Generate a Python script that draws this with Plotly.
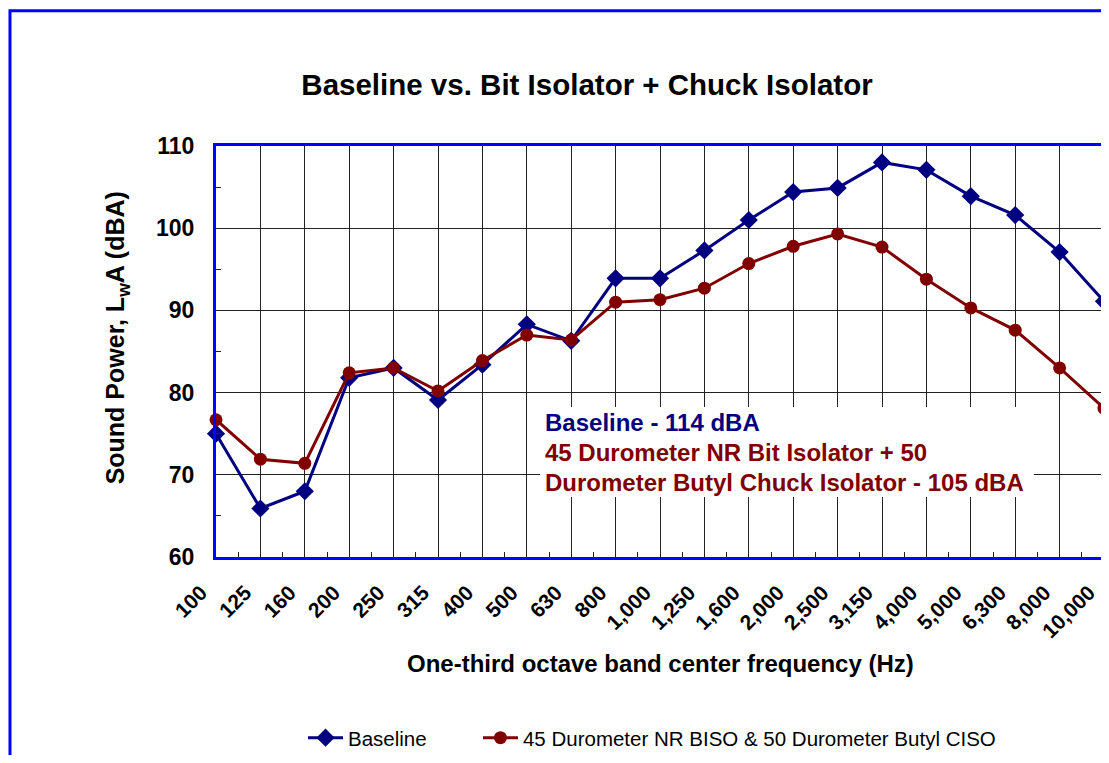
import plotly.graph_objects as go

# one-third octave band centre frequencies (Hz)
FREQS = ["100", "125", "160", "200", "250", "315", "400", "500", "630", "800",
         "1,000", "1,250", "1,600", "2,000", "2,500", "3,150", "4,000", "5,000",
         "6,300", "8,000", "10,000"]

BASELINE = [75.0, 65.9, 68.0, 81.8, 83.0, 79.1, 83.4, 88.3, 86.3, 93.9,
            93.9, 97.3, 101.0, 104.4, 104.9, 108.0, 107.1, 103.9, 101.6, 97.1, 91.1]

ISOLATED = [76.7, 71.9, 71.4, 82.4, 83.0, 80.2, 83.9, 87.0, 86.4, 91.0,
            91.3, 92.7, 95.7, 97.8, 99.3, 97.7, 93.8, 90.3, 87.6, 83.0, 78.1]

SERIES_NAMES = ["Baseline", "45 Durometer NR BISO & 50 Durometer Butyl CISO"]
NOTE_LINES = ["Baseline - 114 dBA",
              "45 Durometer NR Bit Isolator + 50",
              "Durometer Butyl Chuck Isolator - 105 dBA"]

NAVY = "#000080"
MAROON = "#800000"
FRAME = "#0000FF"
FONT = "Liberation Sans, Arial, sans-serif"

x = list(range(len(FREQS)))

fig = go.Figure()
fig.add_trace(go.Scatter(
    x=x, y=BASELINE, name=SERIES_NAMES[0], mode="lines+markers",
    line=dict(color=NAVY, width=3),
    marker=dict(symbol="diamond", size=14, color=NAVY),
    cliponaxis=False, legend="legend"
))
fig.add_trace(go.Scatter(
    x=x, y=ISOLATED, name=SERIES_NAMES[1], mode="lines+markers",
    line=dict(color=MAROON, width=3),
    marker=dict(symbol="circle", size=13, color=MAROON),
    cliponaxis=False, legend="legend2"
))

# white box behind the note text (hides the gridlines there)
fig.add_shape(type="rect", xref="paper", yref="paper",
              x0=0.365, x1=0.921, y0=0.146, y1=0.365,
              fillcolor="white", line=dict(width=0), layer="above")

note_y = [0.328, 0.255, 0.182]
note_colors = [NAVY, MAROON, MAROON]
for txt, yy, col in zip(NOTE_LINES, note_y, note_colors):
    fig.add_annotation(text=txt, xref="paper", yref="paper",
                       x=0.368, y=yy, xanchor="left", yanchor="middle",
                       showarrow=False,
                       font=dict(size=24, color=col, family=FONT, weight="bold"))

# axis titles
fig.add_annotation(text="One-third octave band center frequency (Hz)",
                   xref="paper", yref="paper", x=0.5, y=-0.258,
                   xanchor="center", yanchor="middle", showarrow=False,
                   font=dict(size=24, family=FONT, weight="bold"))
fig.add_annotation(text="Sound Power, L<sub>w</sub>A (dBA)",
                   xref="paper", yref="paper", x=-0.111, y=0.533,
                   xanchor="center", yanchor="middle", showarrow=False, textangle=-90,
                   font=dict(size=25, family=FONT, weight="bold"))

# outer chart border (the original chart extends past the crop)
fig.add_shape(type="rect", xref="paper", yref="paper",
              x0=-0.2320, x1=1.3, y0=-0.6, y1=1.329,
              line=dict(color=FRAME, width=3), layer="below")

legend_style = dict(orientation="h", xanchor="left", y=-0.44, yanchor="middle",
                    font=dict(size=20.5, family=FONT), bgcolor="rgba(0,0,0,0)",
                    itemwidth=35)

fig.update_layout(
    width=1101, height=747,
    paper_bgcolor="white", plot_bgcolor="white",
    font=dict(family=FONT, color="black"),
    title=dict(text="Baseline vs. Bit Isolator + Chuck Isolator",
               x=579 / 1101, xanchor="center", y=1 - 77 / 747, yanchor="middle",
               font=dict(size=29.5, family=FONT, weight="bold")),
    margin=dict(l=208, r=5, t=138, b=198, autoexpand=False),
    showlegend=True,
    legend=dict(x=0.098, **legend_style),
    legend2=dict(x=0.295, **legend_style),
)

fig.update_xaxes(
    range=[0, 20],
    tickmode="array", tickvals=x, ticktext=FREQS,
    tickangle=-45, tickfont=dict(size=21, family=FONT, weight="bold"),
    ticklabelshift=-15, ticklabelstandoff=12, ticklabeloverflow="allow",
    showgrid=True, gridcolor="#222222", gridwidth=1,
    showline=True, linecolor=FRAME, linewidth=3, mirror=True,
    ticks="", zeroline=False,
    minor=dict(tickmode="linear", tick0=0.5, dtick=1, ticks="inside",
               ticklen=5, tickcolor="#222222", showgrid=False),
)
fig.update_yaxes(
    range=[60, 110], dtick=10,
    tickfont=dict(size=23, family=FONT, weight="bold"),
    showgrid=True, gridcolor="#222222", gridwidth=1,
    showline=True, linecolor=FRAME, linewidth=3, mirror=True,
    ticks="", zeroline=False, ticklabelstandoff=14,
    minor=dict(tick0=65, dtick=10, ticks="inside", ticklen=5,
               tickcolor="#222222", showgrid=False),
)

fig.write_html("out.html")
